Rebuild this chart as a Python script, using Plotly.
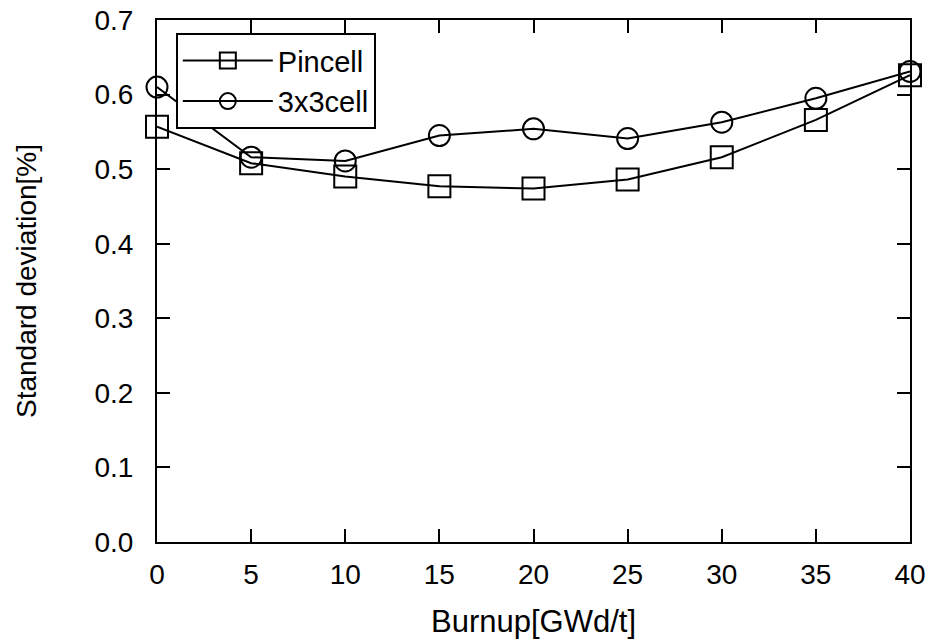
import plotly.graph_objects as go

burnup = [0, 5, 10, 15, 20, 25, 30, 35, 40]
pincell = [0.557, 0.508, 0.490, 0.477, 0.474, 0.486, 0.516, 0.566, 0.626]
cell3x3 = [0.610, 0.516, 0.511, 0.545, 0.554, 0.541, 0.563, 0.595, 0.631]
series_names = ["Pincell", "3x3cell"]
x_title = "Burnup[GWd/t]"
y_title = "Standard deviation[%]"
x_ticks = [0, 5, 10, 15, 20, 25, 30, 35, 40]
y_ticks = [0.0, 0.1, 0.2, 0.3, 0.4, 0.5, 0.6, 0.7]

FONT = "Liberation Sans, Arial, Helvetica, sans-serif"

fig = go.Figure()
fig.add_trace(go.Scatter(
    x=burnup, y=pincell, name=series_names[0], mode="lines+markers",
    line=dict(color="black", width=2),
    marker=dict(symbol="square-open", size=22, color="black", line=dict(width=2)),
    cliponaxis=False,
))
fig.add_trace(go.Scatter(
    x=burnup, y=cell3x3, name=series_names[1], mode="lines+markers",
    line=dict(color="black", width=2),
    marker=dict(symbol="circle-open", size=21, color="black", line=dict(width=2)),
    cliponaxis=False,
))

axis_common = dict(
    showgrid=False, zeroline=False, showline=True, linecolor="black", linewidth=2,
    mirror="ticks", ticks="inside", ticklen=13, tickwidth=2, tickcolor="black",
    tickfont=dict(family=FONT, size=28, color="black"), automargin=False,
)

fig.update_xaxes(
    range=[0, 40], tickvals=x_ticks, ticktext=[str(v) for v in x_ticks],
    title=dict(text=x_title, font=dict(family=FONT, size=31, color="black"), standoff=22),
    ticklabelstandoff=6,
    **axis_common,
)
fig.update_yaxes(
    range=[0, 0.7], tickvals=y_ticks, ticktext=[f"{v:.1f}" for v in y_ticks],
    title=dict(text=y_title, font=dict(family=FONT, size=28, color="black"), standoff=50),
    ticklabelstandoff=16,
    **axis_common,
)

fig.update_layout(
    width=932, height=640,
    margin=dict(l=157, r=22, t=20, b=98),
    plot_bgcolor="white", paper_bgcolor="white",
    font=dict(family=FONT, color="black"),
    legend=dict(
        x=0.025, y=0.975, xanchor="left", yanchor="top",
        bordercolor="black", borderwidth=2, bgcolor="white",
        font=dict(family=FONT, size=29, color="black"),
        itemwidth=90, tracegroupgap=0,
    ),
)

fig.write_html("out.html", config={"displayModeBar": False},
               post_script="document.body.style.margin='0';")
